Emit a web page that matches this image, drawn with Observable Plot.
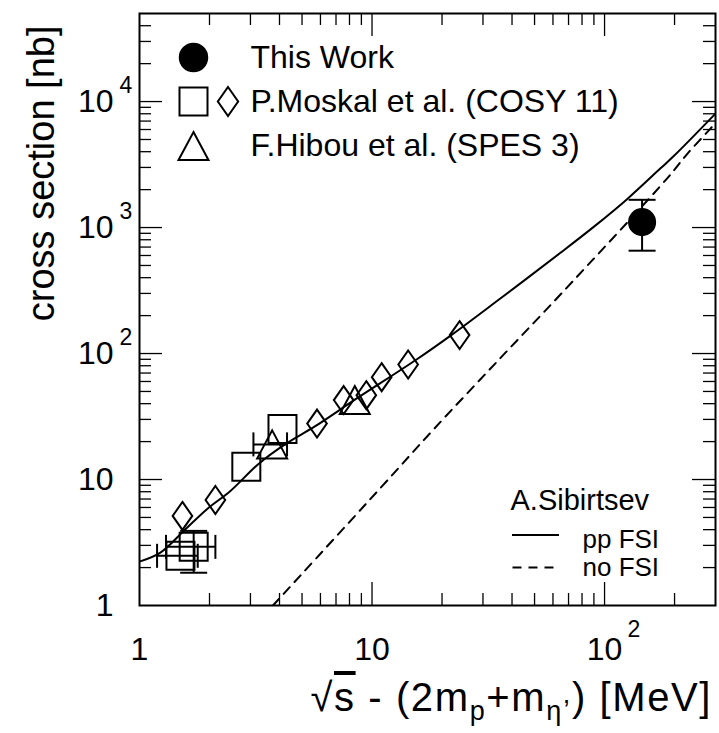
<!DOCTYPE html>
<html>
<head>
<meta charset="utf-8">
<script src="https://cdn.jsdelivr.net/npm/d3@7"></script>
<script src="https://cdn.jsdelivr.net/npm/@observablehq/plot@0.6"></script>
<style>
  html, body { margin: 0; padding: 0; background: #fff; }
  #chart { width: 719px; height: 733px; }
</style>
</head>
<body>
<div id="chart"></div>
<script>
// ---------------- data ----------------
// This Work
const thisWorkX = [145];
const thisWorkY = [1104];
const thisWorkYLo = [655];
const thisWorkYHi = [1660];

// P.Moskal et al. (COSY 11) - squares
const cosySqX = [1.50, 1.71, 2.88, 4.12];
const cosySqY = [2.48, 2.92, 12.6, 25.2];
const cosySqXLo = [1.19, 1.30, null, null];
const cosySqXHi = [1.78, 2.12, null, null];
const cosySqYLo = [null, 1.82, null, null];
const cosySqYHi = [null, 3.91, null, null];

// P.Moskal et al. (COSY 11) - diamonds
const cosyDiaX = [1.53, 2.12, 5.80, 7.55, 9.45, 11.0, 14.3, 23.8];
const cosyDiaY = [5.14, 6.88, 27.8, 42.7, 46.7, 64.9, 81.8, 140];

// F.Hibou et al. (SPES 3) - triangles
const spesX = [3.72, 8.43];
const spesY = [19.0, 42.7];
const spesXLo = [3.09, null];
const spesXHi = [4.31, null];

// A.Sibirtsev calculations
const ppFsiX = [1.00, 1.23, 1.55, 1.95, 2.46, 3.25, 4.24, 5.70, 8.47, 15.6, 21.7, 33.9, 64.6, 89.8, 125, 174, 199, 300];
const ppFsiY = [2.23, 2.63, 3.91, 5.81, 8.11, 13.3, 19.1, 26.5, 43.2, 90.0, 138, 255, 630, 1012, 1680, 2950, 3710, 8020];
const noFsiX = [3.75, 10.9, 18.4, 35.7, 64.6, 186, 227, 286, 300];
const noFsiY = [1.00, 8.61, 25.0, 92.3, 294, 2460, 3850, 6130, 6800];

// ticks and labels
const xMajorTicks = [10, 100];
const xMinorTicks = [2, 3, 4, 5, 6, 7, 8, 9, 20, 30, 40, 50, 60, 70, 80, 90, 200];
const yMajorTicks = [10, 100, 1000, 10000];
const yMinorTicks = [2, 3, 4, 5, 6, 7, 8, 9, 20, 30, 40, 50, 60, 70, 80, 90,
  200, 300, 400, 500, 600, 700, 800, 900, 2000, 3000, 4000, 5000, 6000, 7000, 8000, 9000,
  20000, 30000, 40000];
const xTickValues = [1, 10, 100];
const xTickBase = ["1", "10", "10"];
const xTickExp = ["", "", "2"];
const yTickValues = [1, 10, 100, 1000, 10000];
const yTickBase = ["1", "10", "10", "10", "10"];
const yTickExp = ["", "", "2", "3", "4"];

const legendLabels = ["This Work", "P.Moskal et al. (COSY 11)", "F.Hibou et al. (SPES 3)"];
const theoryAuthor = "A.Sibirtsev";
const theoryLabels = ["pp FSI", "no FSI"];
const yTitle = "cross section [nb]";

// ---------------- layout ----------------
const W = 719, H = 733;
const mL = 139, mR = 4, mT = 13, mB = 128;
const frameW = W - mL - mR, frameH = H - mT - mB;
const majorLen = 23, minorLen = 12;
const FONT = "'Liberation Sans', Arial, Helvetica, sans-serif";

// ---------------- symbols ----------------
const rOf = (size) => Math.sqrt(size / Math.PI);
const squareSym = {draw(c, s) { const r = rOf(s); c.moveTo(-r, -r); c.lineTo(r, -r); c.lineTo(r, r); c.lineTo(-r, r); c.closePath(); }};
const diamondSym = {draw(c, s) { const r = rOf(s); const w = 0.7 * r; c.moveTo(0, -r); c.lineTo(w, 0); c.lineTo(0, r); c.lineTo(-w, 0); c.closePath(); }};
const triangleSym = {draw(c, s) { const r = rOf(s); const w = 1.07 * r; c.moveTo(0, -r); c.lineTo(w, r); c.lineTo(-w, r); c.closePath(); }};
const hCapSym = {draw(c, s) { const r = rOf(s); c.moveTo(-r, 0); c.lineTo(r, 0); }};
const vCapSym = {draw(c, s) { const r = rOf(s); c.moveTo(0, -r); c.lineTo(0, r); }};
const hLineSym = {draw(c, s) { const r = rOf(s); c.moveTo(-r, 0); c.lineTo(r, 0); }};

// ---------------- tables ----------------
const thisWork = thisWorkX.map((x, i) => ({x, y: thisWorkY[i], ylo: thisWorkYLo[i], yhi: thisWorkYHi[i]}));
const squares = cosySqX.map((x, i) => ({x, y: cosySqY[i], xlo: cosySqXLo[i], xhi: cosySqXHi[i], ylo: cosySqYLo[i], yhi: cosySqYHi[i]}));
const diamonds = cosyDiaX.map((x, i) => ({x, y: cosyDiaY[i]}));
const triangles = spesX.map((x, i) => ({x, y: spesY[i], xlo: spesXLo[i], xhi: spesXHi[i]}));
const ppFsi = ppFsiX.map((x, i) => ({x, y: ppFsiY[i]}));
const noFsi = noFsiX.map((x, i) => ({x, y: noFsiY[i]}));

const allPts = [...thisWork, ...squares, ...triangles];
const vErr = allPts.filter(d => d.ylo != null && d.yhi != null);
const hErr = allPts.filter(d => d.xlo != null && d.xhi != null);
const vCaps = vErr.flatMap(d => [{x: d.x, y: d.ylo}, {x: d.x, y: d.yhi}]);
const hCaps = hErr.flatMap(d => [{x: d.xlo, y: d.y}, {x: d.xhi, y: d.y}]);

const xTicks = xTickValues.map((v, i) => ({v, base: xTickBase[i], exp: xTickExp[i]}));
const yTicks = yTickValues.map((v, i) => ({v, base: yTickBase[i], exp: yTickExp[i]}));

const K = {stroke: "black"};

const marks = [
  // ticks (inside, all four sides)
  Plot.ruleX(xMajorTicks, {x: d => d, insetTop: frameH - majorLen, ...K, strokeWidth: 1.3}),
  Plot.ruleX(xMajorTicks, {x: d => d, insetBottom: frameH - majorLen, ...K, strokeWidth: 1.3}),
  Plot.ruleX(xMinorTicks, {x: d => d, insetTop: frameH - minorLen, ...K, strokeWidth: 1.3}),
  Plot.ruleX(xMinorTicks, {x: d => d, insetBottom: frameH - minorLen, ...K, strokeWidth: 1.3}),
  Plot.ruleY(yMajorTicks, {y: d => d, insetRight: frameW - majorLen, ...K, strokeWidth: 1.3}),
  Plot.ruleY(yMajorTicks, {y: d => d, insetLeft: frameW - majorLen, ...K, strokeWidth: 1.3}),
  Plot.ruleY(yMinorTicks, {y: d => d, insetRight: frameW - minorLen, ...K, strokeWidth: 1.3}),
  Plot.ruleY(yMinorTicks, {y: d => d, insetLeft: frameW - minorLen, ...K, strokeWidth: 1.3}),

  // theory curves
  Plot.line(ppFsi, {x: "x", y: "y", curve: "catmull-rom", ...K, strokeWidth: 2, clip: true}),
  Plot.line(noFsi, {x: "x", y: "y", curve: "catmull-rom", ...K, strokeWidth: 2, strokeDasharray: "9,7", clip: true}),

  // error bars
  Plot.ruleX(vErr, {x: "x", y1: "ylo", y2: "yhi", ...K, strokeWidth: 2}),
  Plot.ruleY(hErr, {y: "y", x1: "xlo", x2: "xhi", ...K, strokeWidth: 2}),
  Plot.dot(vCaps, {x: "x", y: "y", symbol: hCapSym, r: 13.5, ...K, fill: "none", strokeWidth: 2}),
  Plot.dot(hCaps, {x: "x", y: "y", symbol: vCapSym, r: 12, ...K, fill: "none", strokeWidth: 2}),

  // data markers
  Plot.dot(squares, {x: "x", y: "y", symbol: squareSym, r: 14, ...K, fill: "none", strokeWidth: 2}),
  Plot.dot(diamonds, {x: "x", y: "y", symbol: diamondSym, r: 14, ...K, fill: "none", strokeWidth: 2}),
  Plot.dot(triangles, {x: "x", y: "y", symbol: triangleSym, r: 14, ...K, fill: "none", strokeWidth: 2}),
  Plot.dot(thisWork, {x: "x", y: "y", r: 13.3, fill: "black", stroke: "black"}),

  // frame
  Plot.frame({stroke: "black", strokeWidth: 2}),

  // tick labels
  Plot.text(yTicks, {y: "v", text: "base", frameAnchor: "left", textAnchor: "end", lineAnchor: "middle", dx: -26, fontSize: 32, fill: "black"}),
  Plot.text(yTicks, {y: "v", text: "exp", frameAnchor: "left", textAnchor: "start", lineAnchor: "middle", dx: -20, dy: -16, fontSize: 23, fill: "black"}),
  Plot.text(xTicks, {x: "v", text: "base", frameAnchor: "bottom", textAnchor: "middle", lineAnchor: "middle", dy: 44, fontSize: 32, fill: "black"}),
  Plot.text(xTicks, {x: "v", text: "exp", frameAnchor: "bottom", textAnchor: "start", lineAnchor: "middle", dx: 23, dy: 24, fontSize: 23, fill: "black"}),

  // y axis title
  Plot.text([yTitle], {frameAnchor: "top-left", rotate: -90, textAnchor: "end", lineAnchor: "bottom", dx: -86, dy: 12, fontSize: 38, fill: "black"}),

  // experiment legend (top-left)
  Plot.dot([0], {frameAnchor: "top-left", dx: 54, dy: 44, r: 14, fill: "black", stroke: "black"}),
  Plot.dot([0], {frameAnchor: "top-left", dx: 54, dy: 88, symbol: squareSym, r: 14, ...K, fill: "none", strokeWidth: 2}),
  Plot.dot([0], {frameAnchor: "top-left", dx: 88.5, dy: 88, symbol: diamondSym, r: 14.5, ...K, fill: "none", strokeWidth: 2}),
  Plot.dot([0], {frameAnchor: "top-left", dx: 54, dy: 132.5, symbol: triangleSym, r: 14, ...K, fill: "none", strokeWidth: 2}),
  ...legendLabels.map((t, i) => Plot.text([t], {frameAnchor: "top-left", textAnchor: "start", lineAnchor: "middle", dx: 111, dy: [44, 88, 132.5][i], fontSize: 32, fill: "black"})),

  // theory legend (bottom-right)
  Plot.text([theoryAuthor], {frameAnchor: "bottom-right", textAnchor: "start", lineAnchor: "bottom", dx: -205, dy: -96, fontSize: 29, fill: "black"}),
  Plot.dot([0], {frameAnchor: "bottom-right", dx: -180, dy: -70.5, symbol: hLineSym, r: 23.5, ...K, fill: "none", strokeWidth: 2}),
  Plot.dot([0], {frameAnchor: "bottom-right", dx: -182, dy: -38, symbol: hLineSym, r: 21, ...K, fill: "none", strokeWidth: 2, strokeDasharray: "9,7"}),
  ...theoryLabels.map((t, i) => Plot.text([t], {frameAnchor: "bottom-right", textAnchor: "start", lineAnchor: "bottom", dx: -133, dy: [-58, -30][i], fontSize: 26, fill: "black"}))
];

const svg = Plot.plot({
  width: W, height: H,
  marginLeft: mL, marginRight: mR, marginTop: mT, marginBottom: mB,
  x: {type: "log", domain: [1, 300], axis: null},
  y: {type: "log", domain: [1, 50000], axis: null},
  style: {fontFamily: FONT, background: "white", color: "black", overflow: "visible"},
  marks
});

// x axis title with sub/superscript structure
const xt = d3.select(svg).append("text")
  .attr("x", W - 7).attr("y", 711)
  .attr("text-anchor", "end")
  .attr("font-family", FONT)
  .attr("font-size", 40)
  .attr("letter-spacing", 1.6)
  .attr("fill", "black");
xt.append("tspan").text("\u221A");
xt.append("tspan").attr("text-decoration", "overline").text("s");
xt.append("tspan").text(" - (2m");
xt.append("tspan").attr("font-size", 27).attr("dy", 9).text("p");
xt.append("tspan").attr("dy", -9).text("+m");
xt.append("tspan").attr("font-size", 27).attr("dy", 9).text("\u03B7");
xt.append("tspan").attr("font-size", 27).attr("dy", -17).text(",");
xt.append("tspan").attr("dy", 8).text(") [MeV]");

document.getElementById("chart").appendChild(svg);
</script>
</body>
</html>
